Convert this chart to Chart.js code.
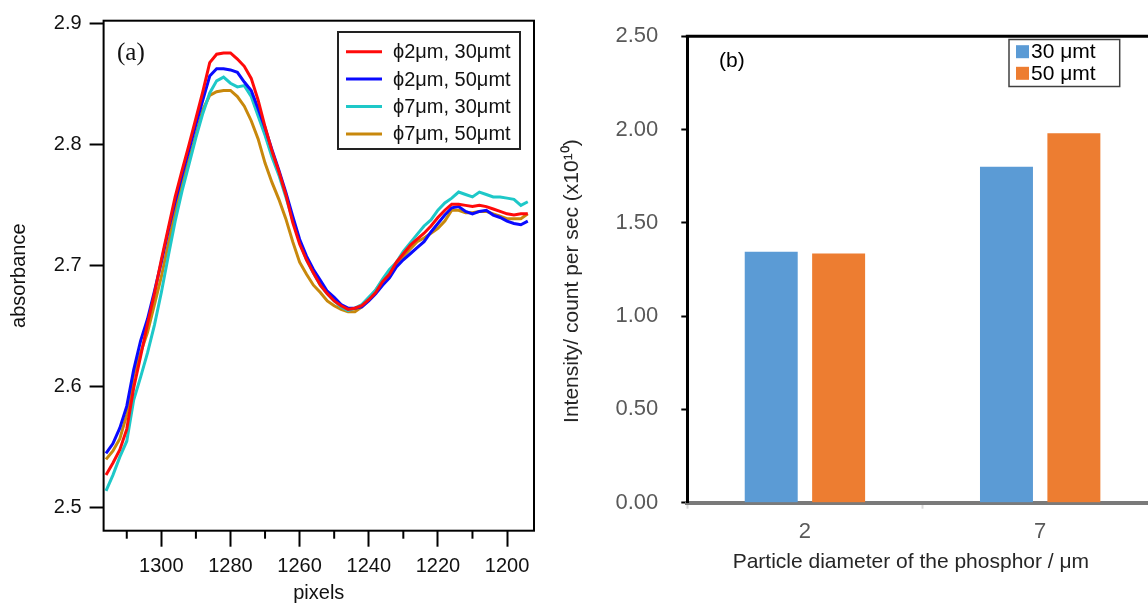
<!DOCTYPE html>
<html><head><meta charset="utf-8">
<script src="https://cdn.jsdelivr.net/npm/chart.js@4.4.1/dist/chart.umd.min.js"></script>
<style>
html,body{margin:0;padding:0;overflow:hidden;background:#fff;width:1148px;height:604px;}
#ca{position:absolute;left:0;top:0;}
#cb{position:absolute;left:560px;top:0;}
</style></head><body>
<canvas id="ca" width="560" height="604"></canvas>
<canvas id="cb" width="620" height="604"></canvas>
<script>
// ---------- Panel (a) data ----------
const pixels = [1316,1314,1312,1310,1308,1306,1304,1302,1300,1298,
  1296,1294,1292,1290,1288,1286,1284,1282,1280,1278,
  1276,1274,1272,1270,1268,1266,1264,1262,1260,1258,
  1256,1254,1252,1250,1248,1246,1244,1242,1240,1238,
  1236,1234,1232,1230,1228,1226,1224,1222,1220,1218,
  1216,1214,1212,1210,1208,1206,1204,1202,1200,1198,
  1196,1194];
const phi2_30 = [2.527,2.537,2.548,2.565,2.599,2.625,2.652,2.677,2.705,2.731,
  2.757,2.779,2.800,2.822,2.844,2.868,2.875,2.876,2.876,2.871,
  2.865,2.855,2.837,2.815,2.795,2.778,2.759,2.736,2.718,2.705,
  2.694,2.684,2.677,2.671,2.667,2.664,2.665,2.667,2.672,2.678,
  2.687,2.693,2.703,2.710,2.717,2.722,2.727,2.733,2.740,2.746,
  2.751,2.751,2.750,2.749,2.750,2.749,2.747,2.745,2.743,2.742,
  2.743,2.743];
const phi2_50 = [2.545,2.553,2.566,2.584,2.614,2.638,2.656,2.679,2.703,2.729,
  2.753,2.775,2.796,2.817,2.837,2.857,2.863,2.863,2.862,2.860,
  2.852,2.845,2.830,2.814,2.796,2.779,2.761,2.741,2.722,2.708,
  2.697,2.688,2.679,2.674,2.668,2.665,2.665,2.666,2.671,2.677,
  2.684,2.690,2.699,2.705,2.710,2.715,2.720,2.728,2.735,2.742,
  2.748,2.749,2.745,2.743,2.745,2.746,2.742,2.740,2.737,2.735,
  2.734,2.737];
const phi7_30 = [2.514,2.527,2.542,2.555,2.589,2.608,2.628,2.651,2.678,2.708,
  2.737,2.762,2.784,2.806,2.826,2.843,2.853,2.856,2.851,2.848,
  2.849,2.840,2.824,2.808,2.790,2.775,2.757,2.738,2.720,2.705,
  2.694,2.684,2.677,2.671,2.666,2.663,2.665,2.668,2.674,2.680,
  2.689,2.697,2.703,2.712,2.719,2.726,2.733,2.738,2.746,2.752,
  2.756,2.761,2.759,2.757,2.761,2.759,2.757,2.757,2.756,2.755,
  2.750,2.753];
const phi7_50 = [2.540,2.547,2.557,2.577,2.610,2.628,2.645,2.668,2.691,2.718,
  2.745,2.768,2.788,2.808,2.829,2.841,2.844,2.845,2.845,2.840,
  2.832,2.820,2.805,2.785,2.769,2.755,2.739,2.720,2.703,2.693,
  2.684,2.678,2.671,2.667,2.664,2.662,2.662,2.666,2.672,2.680,
  2.688,2.694,2.702,2.708,2.714,2.720,2.723,2.727,2.731,2.737,
  2.746,2.746,2.744,2.744,2.745,2.745,2.743,2.741,2.739,2.739,
  2.739,2.743];
const lineLabels = ['\u03D52\u03BCm, 30\u03BCmt','\u03D52\u03BCm, 50\u03BCmt','\u03D57\u03BCm, 30\u03BCmt','\u03D57\u03BCm, 50\u03BCmt'];
const lineColors = ['#ff0a0a','#0a0aff','#1ec8c8','#c8880c'];
const yTicksA = [2.5,2.6,2.7,2.8,2.9];
const xMajorTicksA = [1300,1280,1260,1240,1220,1200];
const xMinorTicksA = [1310,1290,1270,1250,1230,1210];

// ---------- Panel (b) data ----------
const diameters = ['2','7'];
const thick30 = [1.345, 1.80];
const thick50 = [1.335, 1.98];
const barLabels = ['30 \u03BCmt','50 \u03BCmt'];
const barColors = ['#5b9bd5','#ed7d31'];
const yTicksB = [0,0.5,1,1.5,2,2.5];

const SANS = "'Liberation Sans', Arial, sans-serif";

// ---------- Chart (a) ----------
const seriesA = [phi2_30, phi2_50, phi7_30, phi7_50];
const panelA = {
  id: 'panelA',
  afterDraw(chart) {
    const {ctx, chartArea: ca, scales: {x}} = chart;
    ctx.save();
    ctx.strokeStyle = '#000'; ctx.lineWidth = 2;
    ctx.strokeRect(ca.left, ca.top, ca.right - ca.left, ca.bottom - ca.top);
    // minor ticks
    xMinorTicksA.forEach(v => {
      const px = x.getPixelForValue(v);
      ctx.beginPath(); ctx.moveTo(px, ca.bottom); ctx.lineTo(px, ca.bottom + 8); ctx.stroke();
    });
    // legend
    ctx.lineWidth = 2; ctx.strokeStyle = '#222';
    ctx.strokeRect(338, 32, 182, 117);
    ctx.font = '20px ' + SANS; ctx.textBaseline = 'middle'; ctx.textAlign = 'left';
    chart.data.datasets.forEach((ds, i) => {
      const y = 51.7 + i * 27.4;
      ctx.strokeStyle = ds.borderColor; ctx.lineWidth = 3;
      ctx.beginPath(); ctx.moveTo(346, y); ctx.lineTo(382, y); ctx.stroke();
      ctx.fillStyle = '#111'; ctx.fillText(ds.label, 393, y + 1);
    });
    ctx.font = "25px 'Liberation Serif', 'Times New Roman', serif";
    ctx.fillStyle = '#111';
    ctx.fillText('(a)', 117, 53);
    ctx.restore();
  }
};
new Chart(document.getElementById('ca'), {
  type: 'line',
  data: {
    datasets: seriesA.map((s, i) => ({
      label: lineLabels[i],
      data: pixels.map((p, j) => ({x: p, y: s[j]})),
      borderColor: lineColors[i], borderWidth: 3, pointRadius: 0, tension: 0, fill: false
    }))
  },
  options: {
    responsive: false, animation: false, devicePixelRatio: 1,
    layout: {padding: {left: 0, top: 20.7, right: 26, bottom: 0}},
    plugins: {legend: {display: false}, tooltip: {enabled: false}},
    scales: {
      x: {
        type: 'linear', reverse: true, min: 1192.2, max: 1316.7,
        afterBuildTicks: s => { s.ticks = xMajorTicksA.map(v => ({value: v})); },
        afterFit: s => { s.height = 604 - 530.7; },
        ticks: {color: '#111', font: {size: 20, family: SANS}, padding: 8, maxRotation: 0, autoSkip: false, callback: v => String(v)},
        grid: {drawOnChartArea: false, tickLength: 16, tickColor: '#000', tickWidth: 2},
        border: {display: false},
        title: {display: true, text: 'pixels', color: '#111', font: {size: 20, family: SANS}, padding: {top: 0, bottom: -1}}
      },
      y: {
        min: 2.481, max: 2.9027,
        afterBuildTicks: s => { s.ticks = yTicksA.map(v => ({value: v})); },
        afterFit: s => { s.width = 103.6; },
        ticks: {color: '#111', font: {size: 20, family: SANS}, padding: 8, callback: v => v.toFixed(1)},
        grid: {drawOnChartArea: false, tickLength: 14, tickColor: '#000', tickWidth: 2},
        border: {display: false},
        title: {display: true, text: 'absorbance', color: '#111', font: {size: 20, family: SANS}, padding: {top: 7, bottom: 0}}
      }
    }
  },
  plugins: [panelA]
});

// ---------- Chart (b) ----------
const panelB = {
  id: 'panelB',
  afterDraw(chart) {
    const {ctx, chartArea: ca} = chart;
    ctx.save();
    ctx.strokeStyle = '#000'; ctx.lineWidth = 3;
    ctx.beginPath(); ctx.moveTo(ca.left - 1.5, ca.top); ctx.lineTo(ca.right + 30, ca.top); ctx.stroke();
    // legend
    ctx.lineWidth = 1.5; ctx.strokeStyle = '#404040';
    ctx.strokeRect(449, 39.5, 110.7, 47);
    ctx.font = '21px ' + SANS; ctx.textBaseline = 'middle'; ctx.textAlign = 'left';
    chart.data.datasets.forEach((ds, i) => {
      const y = 51.7 + i * 21.6;
      ctx.fillStyle = ds.backgroundColor; ctx.fillRect(456, y - 6.5, 13, 13);
      ctx.fillStyle = '#000'; ctx.fillText(ds.label, 471, y + 1);
    });
    ctx.font = '21px ' + SANS; ctx.fillStyle = '#000';
    ctx.fillText('(b)', 159, 61);
    ctx.restore();
  }
};
new Chart(document.getElementById('cb'), {
  type: 'bar',
  data: {
    labels: diameters,
    datasets: [
      {label: barLabels[0], data: thick30, backgroundColor: barColors[0], categoryPercentage: 0.573, barPercentage: 0.786},
      {label: barLabels[1], data: thick50, backgroundColor: barColors[1], categoryPercentage: 0.573, barPercentage: 0.786}
    ]
  },
  options: {
    responsive: false, animation: false, devicePixelRatio: 1,
    layout: {padding: {left: 0, top: 24.5, right: 22.2, bottom: 0}},
    plugins: {legend: {display: false}, tooltip: {enabled: false}},
    scales: {
      x: {
        z: 1,
        afterFit: s => { s.height = 604 - 502.7; },
        ticks: {color: '#595959', font: {size: 22, family: SANS}, padding: 10},
        grid: {offset: true, drawOnChartArea: false, tickLength: 6, tickColor: '#d9d9d9', tickWidth: 2},
        border: {display: true, color: '#7a7a7a', width: 4},
        title: {display: true, text: 'Particle diameter of the phosphor / \u03BCm    ', color: '#262626', font: {size: 21, family: SANS}, padding: {top: 0, bottom: 28.7}}
      },
      y: {
        min: 0, max: 2.5,
        afterBuildTicks: s => { s.ticks = yTicksB.map(v => ({value: v})); },
        afterFit: s => { s.width = 127.3; },
        ticks: {color: '#595959', font: {size: 22, family: SANS}, padding: 23, callback: v => v.toFixed(2)},
        grid: {drawOnChartArea: false, tickLength: 6, tickColor: '#000', tickWidth: 2},
        border: {display: true, color: '#000', width: 3},
        title: {display: true, text: 'Intensity/ count per sec (x10\u00B9\u2070)    ', color: '#262626', font: {size: 21, family: SANS}, padding: {top: 0, bottom: 0}}
      }
    }
  },
  plugins: [panelB]
});
</script>
</body></html>
